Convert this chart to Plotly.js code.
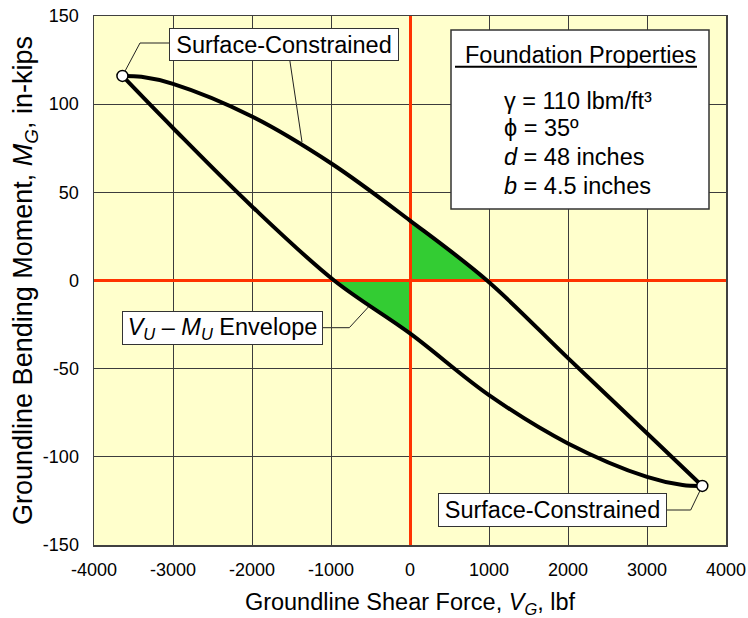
<!DOCTYPE html>
<html>
<head>
<meta charset="utf-8">
<script src="https://cdn.plot.ly/plotly-3.0.1.min.js"></script>
<style>html,body{margin:0;padding:0;background:#fff;}#chart{width:748px;height:618px;}</style>
</head>
<body>
<div id="chart"></div>
<script>
// ---- data ----
const upperX = [-3640, -3400, -3000, -2000, -1000, 0, 975, 2000, 3000, 3700];
const upperY = [116, 115.5, 111.5, 93, 66.5, 34, 0, -44, -86.6, -116.5];
const lowerX = [-3640, -3000, -2000, -960, 0, 1000, 2000, 3000, 3450, 3700];
const lowerY = [116, 86.5, 42, 0, -30, -65, -92.4, -111.4, -116, -116.5];

const xTickVals = [-4000, -3000, -2000, -1000, 0, 1000, 2000, 3000, 4000];
const xTickText = ['-4000', '-3000', '-2000', '-1000', '0', '1000', '2000', '3000', '4000'];
const yTickVals = [-150, -100, -50, 0, 50, 100, 150];
const yTickText = ['-150', '-100', '-50', '0', '50', '100', '150'];

const propLines = [
  'γ = 110 lbm/ft³',
  'ϕ = 35º',
  '<i>d</i> = 48 inches',
  '<i>b</i> = 4.5 inches'
];

// ---- layout helpers (pixel positions -> axis units) ----
const PX = px => (px - 410) / 0.079;
const PY = py => (280.5 - py) / 1.7633;
const FONT = 'Liberation Sans, Arial, Helvetica, sans-serif';

function polyPath(pts) {
  return 'M ' + pts.map(p => p[0] + ',' + p[1]).join(' L ') + ' Z';
}
const upperGreen = [[0, 0]];
upperX.forEach((x, i) => { if (x >= 0 && upperY[i] >= 0) upperGreen.push([x, upperY[i]]); });
const lowerGreen = [[0, 0]];
lowerX.forEach((x, i) => { if (x <= 0 && lowerY[i] <= 0) lowerGreen.push([x, lowerY[i]]); });

const n = upperX.length - 1;
const traces = [
  { x: upperX, y: upperY, mode: 'lines', line: { color: '#000', width: 4, shape: 'spline', smoothing: 1 }, hoverinfo: 'skip' },
  { x: lowerX, y: lowerY, mode: 'lines', line: { color: '#000', width: 4, shape: 'spline', smoothing: 1 }, hoverinfo: 'skip' },
  { x: [upperX[0], upperX[n]], y: [upperY[0], upperY[n]], mode: 'markers',
    marker: { size: 11, color: '#fff', line: { color: '#000', width: 1.5 } }, hoverinfo: 'skip' }
];

const shapes = [
  { type: 'path', xref: 'x', yref: 'y', path: polyPath(upperGreen), fillcolor: '#33CC33', line: { width: 0 }, layer: 'below' },
  { type: 'path', xref: 'x', yref: 'y', path: polyPath(lowerGreen), fillcolor: '#33CC33', line: { width: 0 }, layer: 'below' },
  // leader lines
  { type: 'path', xref: 'x', yref: 'y', layer: 'below', line: { color: '#222', width: 1 },
    path: `M ${upperX[0]},${upperY[0]} L ${PX(140)},${PY(43)} L ${PX(175)},${PY(43)}` },
  { type: 'path', xref: 'x', yref: 'y', layer: 'below', line: { color: '#222', width: 1 },
    path: `M ${PX(289)},${PY(55)} L ${PX(302)},${PY(142)}` },
  { type: 'path', xref: 'x', yref: 'y', layer: 'below', line: { color: '#222', width: 1 },
    path: `M ${PX(660)},${PY(510)} L ${PX(690.7)},${PY(510)} L ${upperX[n]},${upperY[n]}` },
  { type: 'path', xref: 'x', yref: 'y', layer: 'below', line: { color: '#222', width: 1 },
    path: `M ${PX(315)},${PY(327.7)} L ${PX(349.3)},${PY(327.7)} L ${PX(369.3)},${PY(306)}` },
  // properties box
  { type: 'rect', xref: 'x', yref: 'y', x0: PX(451), x1: PX(709), y0: PY(30), y1: PY(209),
    fillcolor: '#fff', line: { color: '#333', width: 1.5 }, layer: 'above' },
  { type: 'line', xref: 'x', yref: 'y', x0: PX(455), x1: PX(697), y0: PY(66.7), y1: PY(66.7),
    line: { color: '#000', width: 2 }, layer: 'above' }
];

const boxAnn = (text, cx, cy, w, h) => ({
  text: text, x: PX(cx), y: PY(cy), xref: 'x', yref: 'y', xanchor: 'center', yanchor: 'middle',
  showarrow: false, width: w, height: h, bgcolor: '#fff', bordercolor: '#333', borderwidth: 1, borderpad: 0,
  font: { family: FONT, size: 23.5, color: '#000' }
});

const annotations = [
  boxAnn('Surface-Constrained', 284, 44.3, 228, 31.3),
  boxAnn('Surface-Constrained', 552.8, 510.3, 227, 32),
  boxAnn('<i>V<sub>U</sub></i> – <i>M<sub>U</sub></i> Envelope', 222.2, 327.8, 199, 32.3),
  { text: 'Foundation Properties', x: PX(580), y: PY(69.3), xref: 'x', yref: 'y', xanchor: 'center', yanchor: 'bottom',
    showarrow: false, borderpad: 0, font: { family: FONT, size: 23.5, color: '#000' } }
];
const baselines = [110, 137.3, 166, 195];
propLines.forEach((t, i) => {
  annotations.push({ text: t, x: PX(503.3), y: PY(baselines[i] + 5), xref: 'x', yref: 'y',
    xanchor: 'left', yanchor: 'bottom', showarrow: false, borderpad: 0,
    font: { family: FONT, size: 23.5, color: '#000' } });
});

const layout = {
  width: 748, height: 618,
  margin: { l: 94, r: 22, t: 16, b: 73 },
  paper_bgcolor: '#fff', plot_bgcolor: '#FFFFCC',
  showlegend: false,
  font: { family: FONT, color: '#000' },
  xaxis: {
    range: [-4000, 4000], tickvals: xTickVals, ticktext: xTickText, ticks: '',
    showgrid: true, gridcolor: '#3c3c3c', gridwidth: 1,
    zeroline: true, zerolinecolor: '#FF3300', zerolinewidth: 3,
    showline: true, linecolor: '#404040', linewidth: 1.5, mirror: true,
    tickfont: { family: FONT, size: 18, color: '#000' }, ticklabelstandoff: 8,
    title: { text: 'Groundline Shear Force, <i>V</i><sub><i>G</i></sub>, lbf', font: { family: FONT, size: 23.5, color: '#000' }, standoff: 15 },
    fixedrange: true
  },
  yaxis: {
    range: [-150, 150], tickvals: yTickVals, ticktext: yTickText, ticks: '',
    showgrid: true, gridcolor: '#3c3c3c', gridwidth: 1,
    zeroline: true, zerolinecolor: '#FF3300', zerolinewidth: 3,
    showline: true, linecolor: '#404040', linewidth: 1.5, mirror: true,
    tickfont: { family: FONT, size: 18, color: '#000' }, ticklabelstandoff: 10,
    title: { text: 'Groundline Bending Moment, <i>M</i><sub><i>G</i></sub>, in-kips', font: { family: FONT, size: 27, color: '#000' }, standoff: 2 },
    fixedrange: true
  },
  shapes: shapes,
  annotations: annotations
};

Plotly.newPlot('chart', traces, layout, { displayModeBar: false, staticPlot: true });
</script>
</body>
</html>
